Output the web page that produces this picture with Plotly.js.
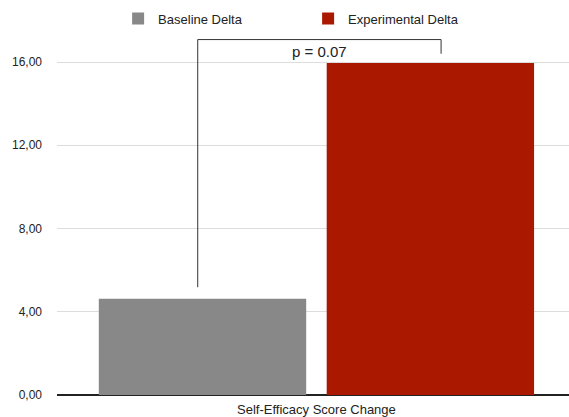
<!DOCTYPE html>
<html>
<head>
<meta charset="utf-8">
<script src="https://cdn.plot.ly/plotly-3.0.1.min.js"></script>
<style>html,body{margin:0;padding:0;background:#fff;}#chart{width:569px;height:417px;}</style>
</head>
<body>
<div id="chart"></div>
<script>
var categories = ["Self-Efficacy Score Change"];
var seriesNames = ["Baseline Delta", "Experimental Delta"];
var baselineValues = [4.62];
var experimentalValues = [15.96];
var seriesColors = ["#888888", "#AB1800"];
var yTickValues = [0, 4, 8, 12, 16];
var pValueLabel = "p = 0.07";

var traces = [
  {type: "bar", name: seriesNames[0], x: categories, y: baselineValues,
   marker: {color: seriesColors[0], line: {width: 0}}, hoverinfo: "skip"},
  {type: "bar", name: seriesNames[1], x: categories, y: experimentalValues,
   marker: {color: seriesColors[1], line: {width: 0}}, hoverinfo: "skip"}
];

// bracket in data coordinates
var xL = -0.2318, xR = 0.2434;
var yLeftBottom = 5.18, yTop = 17.08, yRightBottom = 16.40;
var lineStyle = {color: "#333333", width: 1};

var layout = {
  width: 569, height: 417,
  margin: {l: 57, r: 0, t: 30, b: 22, pad: 0, autoexpand: false},
  paper_bgcolor: "#ffffff", plot_bgcolor: "#ffffff",
  font: {family: "Liberation Sans, Arial, Helvetica, sans-serif", size: 12, color: "#222222"},
  barmode: "group", bargap: 0.11, bargroupgap: 0.09,
  showlegend: true,
  legend: {orientation: "h", xref: "container", yref: "container", x: 0.19 + 10/569, y: 1 - 18.5/417,
           xanchor: "left", yanchor: "middle", font: {size: 13, color: "#222222"},
           entrywidth: 145, entrywidthmode: "pixels", bgcolor: "rgba(0,0,0,0)", borderwidth: 0},
  xaxis: {type: "category", range: [-0.5066, 0.4932], showgrid: false, zeroline: false,
          showline: false, ticks: "", ticklabelstandoff: 5,
          tickfont: {size: 13, color: "#222222"}, fixedrange: true, automargin: false},
  yaxis: {range: [0, 17.54], tickvals: yTickValues, tickformat: ".2f",
          showgrid: true, gridcolor: "#dddddd", gridwidth: 1,
          zeroline: true, zerolinecolor: "#222222", zerolinewidth: 1.5,
          showline: false, ticks: "", ticklabelstandoff: 14,
          tickfont: {size: 12, color: "#222222"}, fixedrange: true, automargin: false},
  separators: ",.",
  shapes: [
    {type: "line", xref: "x", yref: "y", x0: xL, x1: xL, y0: yLeftBottom, y1: yTop, line: lineStyle},
    {type: "line", xref: "x", yref: "y", x0: xL, x1: xR, y0: yTop, y1: yTop, line: lineStyle},
    {type: "line", xref: "x", yref: "y", x0: xR, x1: xR, y0: yTop, y1: yRightBottom, line: lineStyle}
  ],
  annotations: [
    {xref: "x", yref: "y", x: (xL + xR) / 2, y: yTop, yanchor: "top", yshift: -1,
     text: pValueLabel, showarrow: false, font: {size: 15, color: "#222222"}}
  ]
};

Plotly.newPlot("chart", traces, layout, {staticPlot: true, displayModeBar: false});
</script>
</body>
</html>
